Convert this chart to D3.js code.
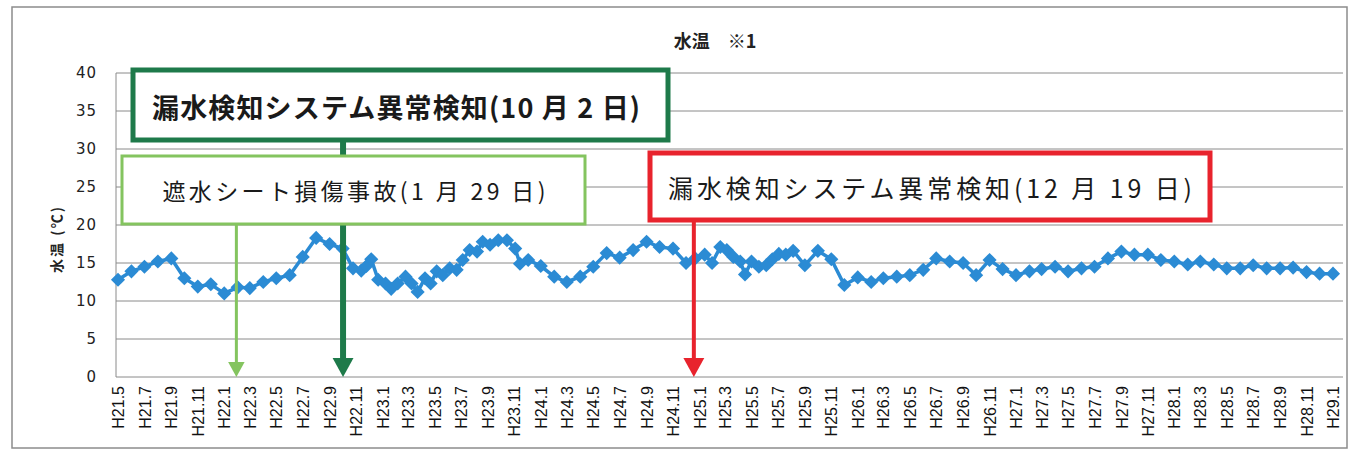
<!DOCTYPE html>
<html>
<head>
<meta charset="utf-8">
<script src="https://cdn.jsdelivr.net/npm/d3@7"></script>
<style>
body{margin:0;background:#fff;}
svg{display:block;}
</style>
</head>
<body>
<script>
// measurement dates and water temperature (℃)
var dates=[
 "2009-05-01","2009-06-01","2009-07-01","2009-08-01","2009-09-01","2009-10-01","2009-11-01","2009-12-01",
 "2010-01-01","2010-02-01","2010-03-01","2010-04-01","2010-05-01","2010-06-01","2010-07-01","2010-08-01",
 "2010-09-01","2010-10-01","2010-10-25","2010-11-13","2010-11-25","2010-12-06","2010-12-22","2011-01-08",
 "2011-01-21","2011-02-05","2011-02-23","2011-03-09","2011-03-23","2011-04-09","2011-04-22","2011-05-06",
 "2011-05-20","2011-06-05","2011-06-21","2011-07-05","2011-07-21","2011-08-07","2011-08-20","2011-09-06",
 "2011-09-25","2011-10-15","2011-11-03","2011-11-14","2011-12-03","2012-01-01","2012-02-01","2012-03-01",
 "2012-04-01","2012-05-01","2012-06-01","2012-07-01","2012-08-01","2012-09-01","2012-10-01","2012-11-01",
 "2012-12-01","2012-12-22","2013-01-13","2013-01-30","2013-02-18","2013-03-05","2013-03-20","2013-04-05",
 "2013-04-16","2013-05-01","2013-05-18","2013-06-04","2013-06-18","2013-07-03","2013-07-19","2013-08-05",
 "2013-09-01","2013-10-01","2013-11-01","2013-12-01","2014-01-01","2014-02-01","2014-03-01","2014-04-01",
 "2014-05-01","2014-06-01","2014-07-01","2014-08-01","2014-09-01","2014-10-01","2014-11-01","2014-12-01",
 "2015-01-01","2015-02-01","2015-03-01","2015-04-01","2015-05-01","2015-06-01","2015-07-01","2015-08-01",
 "2015-09-01","2015-10-01","2015-11-01","2015-12-01","2016-01-01","2016-02-01","2016-03-01","2016-04-01",
 "2016-05-01","2016-06-01","2016-07-01","2016-08-01","2016-09-01","2016-10-01","2016-11-01","2016-12-01",
 "2017-01-01"];
var temps=[
 12.8,13.9,14.5,15.2,15.6,13.0,11.9,12.2,
 11.0,11.8,11.7,12.5,13.0,13.4,15.8,18.3,
 17.5,16.9,14.3,14.0,14.6,15.5,12.8,12.3,
 11.6,12.3,13.2,12.3,11.2,13.0,12.3,13.9,
 13.4,14.3,14.1,15.4,16.7,16.5,17.8,17.4,
 18.0,18.0,16.9,14.9,15.4,14.6,13.2,12.5,
 13.2,14.5,16.3,15.7,16.7,17.8,17.1,16.9,
 15.0,15.6,16.1,15.0,17.1,16.7,15.8,15.2,
 13.5,15.2,14.5,14.7,15.5,16.2,16.1,16.6,
 14.7,16.6,15.5,12.1,13.1,12.5,13.0,13.2,
 13.4,14.1,15.6,15.2,15.0,13.4,15.4,14.2,
 13.4,13.9,14.2,14.5,13.9,14.3,14.5,15.6,
 16.5,16.1,16.1,15.4,15.2,14.8,15.2,14.8,
 14.3,14.3,14.7,14.3,14.3,14.4,13.8,13.6,
 13.6];
var yTicks=[0,5,10,15,20,25,30,35,40];

// events drawn as callouts
var eventDates=["2010-01-29","2010-10-02","2012-12-19"];
var eventLabels=["遮水シート損傷事故(1 月 29 日)","漏水検知システム異常検知(10 月 2 日)","漏水検知システム異常検知(12 月 19 日)"];

var parse=d3.timeParse("%Y-%m-%d");
var data=dates.map(function(d,i){return {date:parse(d),v:temps[i]};});

var W=1351,H=453;
var plotL=116,plotR=1343,plotT=73,plotB=377;

var svg=d3.select("body").append("svg").attr("width",W).attr("height",H);

// outer frame
svg.append("rect").attr("x",12).attr("y",7).attr("width",1335).attr("height",441)
 .attr("fill","none").attr("stroke","#8c8c8c").attr("stroke-width",1.5);

var x=d3.scaleTime().domain([parse("2009-05-01"),parse("2017-01-01")]).range([118,1333]);
var y=d3.scaleLinear().domain([0,40]).range([plotB,plotT]);

// gridlines
svg.append("g").selectAll("line").data(yTicks).enter().append("line")
 .attr("x1",plotL).attr("x2",plotR)
 .attr("y1",function(d){return y(d);}).attr("y2",function(d){return y(d);})
 .attr("stroke","#8a8a8a").attr("stroke-width",1);
svg.append("line").attr("x1",plotL).attr("x2",plotL).attr("y1",plotT).attr("y2",plotB)
 .attr("stroke","#8a8a8a").attr("stroke-width",1);

// y axis
var yAxis=svg.append("g").attr("transform","translate("+plotL+",0)")
 .call(d3.axisLeft(y).tickValues(yTicks).tickSize(0).tickPadding(19));
yAxis.select(".domain").remove();
yAxis.selectAll("text").attr("font-family","DejaVu Sans").attr("font-size",15)
 .attr("letter-spacing",1).attr("fill","#222");

// x axis
var fmt=function(d){return "H"+(d.getFullYear()-1988)+"."+(d.getMonth()+1);};
var xAxis=svg.append("g").attr("transform","translate(0,"+plotB+")")
 .call(d3.axisBottom(x).ticks(d3.timeMonth.every(2)).tickFormat(fmt).tickSize(0));
xAxis.select(".domain").remove();
xAxis.selectAll("text")
 .attr("transform","rotate(-90)").attr("x",-9).attr("y",0).attr("dy","0.35em")
 .style("text-anchor","end")
 .attr("font-family","Liberation Sans").attr("font-size",16).attr("fill","#111");

// titles
svg.append("text").attr("x",715).attr("y",48).attr("text-anchor","middle")
 .attr("font-family","Noto Sans CJK JP").attr("font-size",18).attr("font-weight","bold").attr("fill","#222").text("水温　※1");
svg.append("text").attr("transform","translate(62,240) rotate(-90)").attr("text-anchor","middle")
 .attr("font-family","Noto Sans CJK JP").attr("font-size",14).attr("font-weight","bold")
 .attr("textLength",66).attr("lengthAdjust","spacing").attr("fill","#222").text("水温 (℃)");

// series
var blue="#2b8bd4";
var line=d3.line().x(function(d){return x(d.date);}).y(function(d){return y(d.v);});
svg.append("path").datum(data).attr("d",line).attr("fill","none").attr("stroke",blue).attr("stroke-width",3.5);
svg.append("g").selectAll("path").data(data).enter().append("path")
 .attr("d",d3.symbol().type(d3.symbolSquare).size(100))
 .attr("transform",function(d){return "translate("+x(d.date)+","+y(d.v)+") rotate(45)";})
 .attr("fill",blue);

// callouts
function arrowLine(xp,y0,w,head,col){
 svg.append("line").attr("x1",xp).attr("x2",xp).attr("y1",y0).attr("y2",plotB-head+2)
  .attr("stroke",col).attr("stroke-width",w);
 svg.append("path").attr("d","M"+(xp-head*0.55)+","+(plotB-head)+"L"+(xp+head*0.55)+","+(plotB-head)+"L"+xp+","+plotB+"Z")
  .attr("fill",col);
}
function box(bx,by,bw,bh,col,sw){
 svg.append("rect").attr("x",bx).attr("y",by).attr("width",bw).attr("height",bh)
  .attr("fill","#fff").attr("stroke",col).attr("stroke-width",sw);
}
function label(cx,cy,txt,size,len,weight){
 svg.append("text").attr("x",cx).attr("y",cy).attr("text-anchor","middle").attr("dominant-baseline","central")
  .attr("font-family","Noto Sans CJK JP").attr("font-size",size).attr("font-weight",weight)
  .attr("textLength",len).attr("lengthAdjust","spacing").attr("fill","#1a1a1a").text(txt);
}
var dark="#1e7a4a",light="#84c45f",red="#e8232d";
var ex=eventDates.map(function(d){return x(parse(d));});

arrowLine(ex[1],140,6,19,dark);
box(122,156,463,68,light,3);
arrowLine(ex[0],224,3,15,light);
box(133,70,535,70,dark,5);
box(650,153,560,67,red,5);
arrowLine(ex[2],220,4,19,red);

label(354,190,eventLabels[0],23,383,"normal");
label(396,106,eventLabels[1],27,488,"bold");
label(930,187,eventLabels[2],25,524,"normal");
</script>
</body>
</html>
